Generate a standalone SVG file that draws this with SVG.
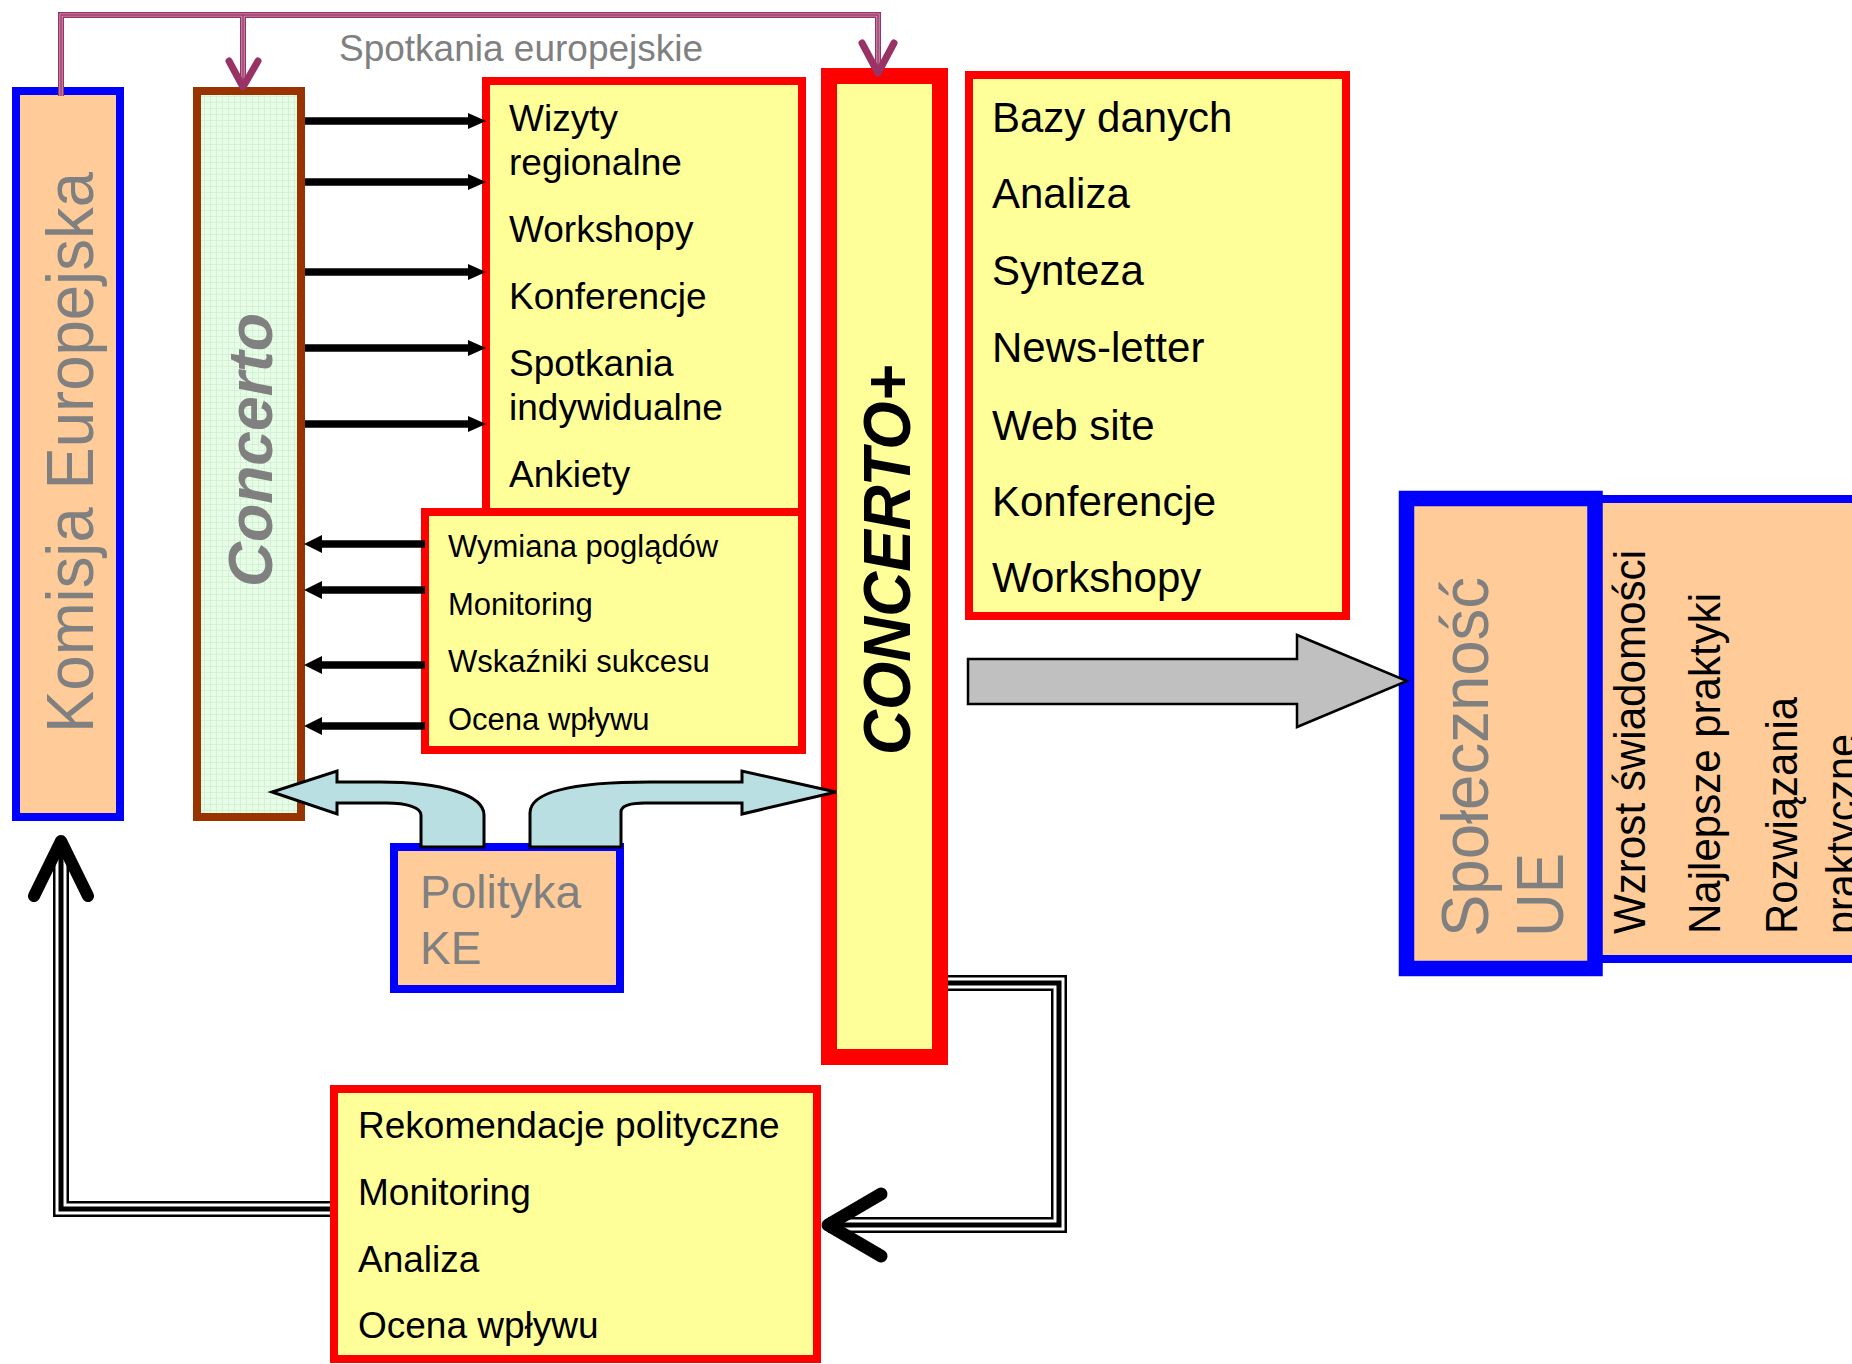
<svg xmlns="http://www.w3.org/2000/svg" width="1852" height="1364" viewBox="0 0 1852 1364">
<style>
text{font-family:"Liberation Sans",Arial,sans-serif}
.peach{fill:#FFCC99}
.yellow{fill:#FFFF99}
.red{stroke:#FF0000}
.blue{stroke:#0000FF}
.grey{fill:#808080}
.blk{fill:#000}
.t37{font-size:37px}
.t42{font-size:42px}
.t31{font-size:31px}
.t44{font-size:44px}
.bi{font-weight:bold;font-style:italic}
.mag1{fill:none;stroke:#993366;stroke-width:6}
.mag2{fill:none;stroke:#D9A8C0;stroke-width:3.2}
.mag3{fill:none;stroke:#993366;stroke-width:1.4}
.chev{fill:none;stroke-linecap:round;stroke-linejoin:round}
.tr1{fill:none;stroke:#000;stroke-width:16}
.tr2{fill:none;stroke:#fff;stroke-width:11}
.tr3{fill:none;stroke:#000;stroke-width:5}
.bl{stroke:#000;stroke-width:7.5}
.curv{fill:#B9DFE2;stroke:#000;stroke-width:3;stroke-linejoin:miter}
</style>
<defs>
<pattern id="grid" width="6" height="6" patternUnits="userSpaceOnUse">
<rect width="6" height="6" fill="#E8FDE8"/>
<path d="M0 0.5H6M0.5 0V6" stroke="#CFF0CF" stroke-width="0.8"/>
</pattern>
</defs>
<rect width="1852" height="1364" fill="#fff"/>

<g id="spoleczenstwo-cechy">
<rect x="1590" y="499" width="300" height="460" class="peach blue" stroke-width="8"/>
<text class="blk t44" transform="translate(1645,934) rotate(-90)" textLength="384" lengthAdjust="spacingAndGlyphs">Wzrost świadomości</text>
<text class="blk t44" transform="translate(1720,934) rotate(-90)" textLength="341" lengthAdjust="spacingAndGlyphs">Najlepsze praktyki</text>
<text class="blk t44" transform="translate(1797,934) rotate(-90)" textLength="237" lengthAdjust="spacingAndGlyphs">Rozwiązania</text>
<text class="blk t44" transform="translate(1857,934) rotate(-90)" textLength="200" lengthAdjust="spacingAndGlyphs">praktyczne</text>
</g>

<g id="spolecznosc-ue">
<rect x="1406.5" y="498.5" width="188.5" height="470" class="peach blue" stroke-width="15.5"/>
<text class="grey" font-size="66" transform="translate(1488,937) rotate(-90)" textLength="360" lengthAdjust="spacingAndGlyphs">Społeczność</text>
<text class="grey" font-size="66" transform="translate(1563,937) rotate(-90)" textLength="84" lengthAdjust="spacingAndGlyphs">UE</text>
</g>

<g id="komisja">
<rect x="16" y="91" width="104" height="726" class="peach blue" stroke-width="8"/>
<text class="grey" font-size="67" transform="translate(92.7,733) rotate(-90)" textLength="561" lengthAdjust="spacingAndGlyphs">Komisja Europejska</text>
</g>

<g id="concerto">
<rect x="197" y="91" width="104" height="726" fill="url(#grid)" stroke="#993300" stroke-width="8"/>
<text class="grey bi" font-size="63" transform="translate(272,587) rotate(-90)" textLength="274" lengthAdjust="spacingAndGlyphs">Concerto</text>
</g>

<g id="wizyty">
<rect x="486" y="81" width="316" height="432" class="yellow red" stroke-width="8"/>
<g class="blk t37">
<text x="509" y="131">Wizyty</text>
<text x="509" y="175">regionalne</text>
<text x="509" y="242">Workshopy</text>
<text x="509" y="309">Konferencje</text>
<text x="509" y="376">Spotkania</text>
<text x="509" y="420">indywidualne</text>
<text x="509" y="487">Ankiety</text>
</g>
</g>

<g id="wymiana">
<rect x="425" y="512" width="377" height="238" class="yellow red" stroke-width="8"/>
<g class="blk t31">
<text x="448" y="557">Wymiana poglądów</text>
<text x="448" y="615">Monitoring</text>
<text x="448" y="672">Wskaźniki sukcesu</text>
<text x="448" y="730">Ocena wpływu</text>
</g>
</g>

<g id="concerto-plus">
<rect x="829" y="76" width="111" height="981" class="yellow red" stroke-width="16"/>
<text class="blk bi" font-size="67" transform="translate(910,755) rotate(-90)" textLength="390" lengthAdjust="spacingAndGlyphs">CONCERTO+</text>
</g>

<g id="bazy">
<rect x="969" y="75" width="377" height="541" class="yellow red" stroke-width="8"/>
<g class="blk t42">
<text x="992" y="132">Bazy danych</text>
<text x="992" y="208">Analiza</text>
<text x="992" y="285">Synteza</text>
<text x="992" y="362">News-letter</text>
<text x="992" y="440">Web site</text>
<text x="992" y="516">Konferencje</text>
<text x="992" y="592">Workshopy</text>
</g>
</g>

<g id="polityka">
<rect x="394" y="847" width="226" height="142" class="peach blue" stroke-width="8"/>
<text class="grey" font-size="46" x="420" y="908">Polityka</text>
<text class="grey" font-size="46" x="420" y="964">KE</text>
</g>

<g id="rekomendacje">
<rect x="334" y="1089" width="483" height="270" class="yellow red" stroke-width="8"/>
<g class="blk t37">
<text x="358" y="1138">Rekomendacje polityczne</text>
<text x="358" y="1205">Monitoring</text>
<text x="358" y="1272">Analiza</text>
<text x="358" y="1338">Ocena wpływu</text>
</g>
</g>

<g id="connectors">
<path class="mag1" d="M61 96V15H878V70M243 15V84"/>
<path class="mag2" d="M61 96V15H878V70M243 15V84"/>
<path class="mag3" d="M61 96V15H878V70M243 15V84"/>
<polyline class="chev" stroke="#993366" stroke-width="7" points="229,61 243,87 258,61"/>
<polyline class="chev" stroke="#993366" stroke-width="7" points="862,43 878,73 894,43"/>
<text class="grey t37" x="339" y="61">Spotkania europejskie</text>

<g>
<line class="bl" x1="305" y1="121" x2="472" y2="121"/><polygon class="blk" points="468,113 486,121 468,129"/>
<line class="bl" x1="305" y1="182" x2="472" y2="182"/><polygon class="blk" points="468,174 486,182 468,190"/>
<line class="bl" x1="305" y1="272" x2="472" y2="272"/><polygon class="blk" points="468,264 486,272 468,280"/>
<line class="bl" x1="305" y1="348" x2="472" y2="348"/><polygon class="blk" points="468,340 486,348 468,356"/>
<line class="bl" x1="305" y1="424" x2="472" y2="424"/><polygon class="blk" points="468,416 486,424 468,432"/>
</g>
<g>
<line class="bl" x1="318" y1="544" x2="425" y2="544"/><polygon class="blk" points="322,535 304,544 322,553"/>
<line class="bl" x1="318" y1="590" x2="425" y2="590"/><polygon class="blk" points="322,581 304,590 322,599"/>
<line class="bl" x1="318" y1="665" x2="425" y2="665"/><polygon class="blk" points="322,656 304,665 322,674"/>
<line class="bl" x1="318" y1="726" x2="425" y2="726"/><polygon class="blk" points="322,717 304,726 322,735"/>
</g>

<path class="curv" d="M421 847V815C421 808 408 803 386 803H337V814L272 792L337 771V782H380C442 782 484 795 484 815V847Z"/>
<path class="curv" d="M530 847V813C530 792 572 782 650 782H742V771L836 792L742 814V803H645C630 803 621 806 621 812V847Z"/>

<polygon points="968,659 1297,659 1297,635 1407,681 1297,727 1297,704 968,704" fill="#C0C0C0" stroke="#000" stroke-width="2.5"/>

<path class="tr1" d="M948 983H1059V1225H828"/>
<path class="tr2" d="M948 983H1059V1225H828"/>
<path class="tr3" d="M948 983H1059V1225H828"/>
<polyline class="chev" stroke="#000" stroke-width="13" points="881,1194 828,1225 881,1256"/>

<path class="tr1" d="M330 1209H61V845"/>
<path class="tr2" d="M330 1209H61V845"/>
<path class="tr3" d="M330 1209H61V845"/>
<polyline class="chev" stroke="#000" stroke-width="12" points="34,896 61,841 88,896"/>
</g>
</svg>
